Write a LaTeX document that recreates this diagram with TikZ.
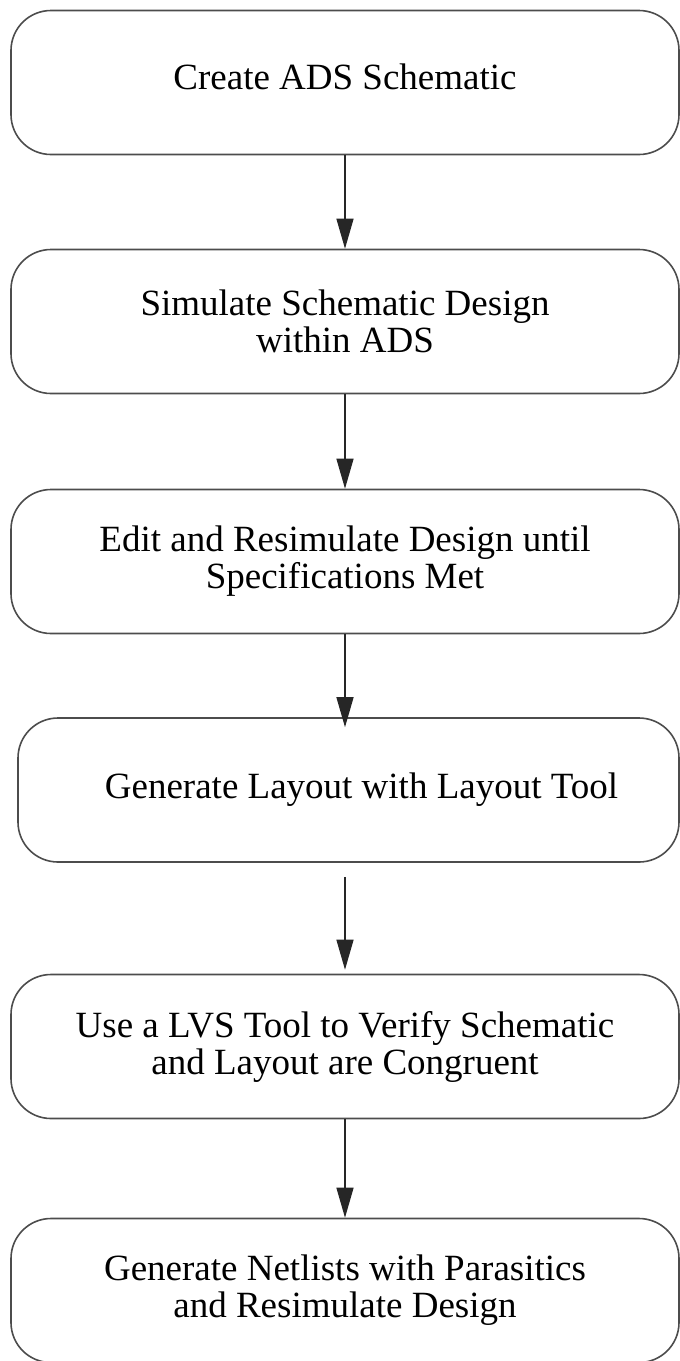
\documentclass[tikz,border=0pt]{standalone}
\usepackage{fontspec}
\setmainfont{Liberation Serif}
\usetikzlibrary{arrows.meta,positioning}

\tikzset{
  taskbox/.style={draw=black!70, line width=1.6pt, rounded corners=40pt,
    minimum width=668pt, minimum height=144pt, inner sep=0pt, align=center,
    font=\fontsize{37}{37}\selectfont},
  flow/.style={draw=black!85, line width=1.3pt, -{Triangle[length=30pt,width=17pt]}}
}

\begin{document}
\begin{tikzpicture}[x=1pt,y=-1pt]
	\useasboundingbox (0,0) rectangle (680,1361);
	\node[taskbox] (create) at (345,82.5) {Create ADS Schematic\\[-26pt]\mbox{}};
	\node[taskbox] (simulate) at (345,321.5) {Simulate Schematic Design\\ within ADS};
	\node[taskbox] (edit) at (345,561.5) {Edit and Resimulate Design until\\ Specifications Met};
	\node[taskbox, minimum width=661pt] (layout) at (348.5,790) {\hspace*{26pt}Generate Layout with Layout Tool};
	\node[taskbox] (lvs) at (345,1046.5) {Use a LVS Tool to Verify Schematic\\ and Layout are Congruent};
	\node[taskbox] (netlist) at (345,1290.5) {Generate Netlists with Parasitics\\ and Resimulate Design};

	\draw[flow] (create.south) -- (simulate.north);
	\draw[flow] (simulate.south) -- (edit.north);
	\draw[flow, shorten >=-10pt] (edit.south) -- (edit.south |- layout.north);
	\draw[flow, shorten <=14pt, shorten >=4pt] (layout.south -| lvs.north) -- (lvs.north);
	\draw[flow] (lvs.south) -- (netlist.north);
\end{tikzpicture}
\end{document}
